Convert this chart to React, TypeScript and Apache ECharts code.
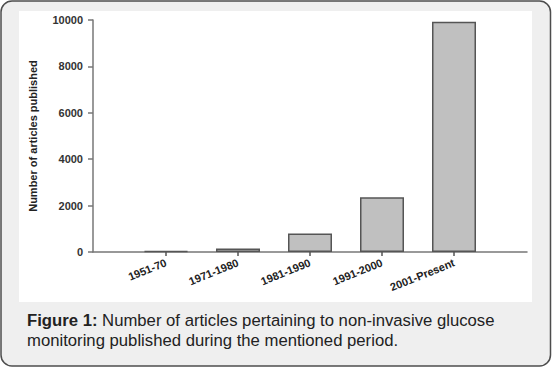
import React, { useEffect, useRef } from "react";
import * as echarts from "echarts";

const categories = ["1951-70", "1971-1980", "1981-1990", "1991-2000", "2001-Present"];
const articleCounts = [40, 150, 800, 2360, 9920];
const yTicks = { min: 0, max: 10000, interval: 2000 };
const yAxisTitle = "Number of articles published";
const captionBold = "Figure 1:";
const captionLine1 = " Number of articles pertaining to non-invasive glucose";
const captionLine2 = "monitoring published during the mentioned period.";

export default function App() {
  const ref = useRef<HTMLDivElement>(null);
  useEffect(() => {
    if (!ref.current) return;
    const chart = echarts.init(ref.current, null, { renderer: "svg" });
    const font = "Liberation Sans, Arial, Helvetica, sans-serif";
    chart.setOption({
      animation: false,
      textStyle: { fontFamily: font },
      graphic: [
        {
          type: "rect",
          z: -10,
          silent: true,
          shape: { x: 1, y: 1, width: 549.5, height: 365, r: 11 },
          style: { fill: "#efefef", stroke: "#4d4d4d", lineWidth: 1.5 },
        },
        {
          type: "rect",
          z: -9,
          silent: true,
          shape: { x: 19, y: 11, width: 513, height: 291 },
          style: { fill: "#ffffff" },
        },
        {
          type: "text",
          x: 27,
          y: 310,
          style: {
            text: "{b|" + captionBold + "}{n|" + captionLine1 + "}\n{n|" + captionLine2 + "}",
            fontFamily: font,
            rich: {
              b: { fontSize: 16.7, fontWeight: "bold", fill: "#222", fontFamily: font, lineHeight: 20 },
              n: { fontSize: 16.7, fill: "#222", fontFamily: font, lineHeight: 20 },
            },
          },
        },
      ],
      grid: [
        { left: 93, right: 25, top: 20, bottom: 116, containLabel: false },
        { left: 130, width: 360, top: 20, bottom: 116, containLabel: false },
      ],
      xAxis: [
        {
          gridIndex: 0,
          type: "value",
          min: 0,
          max: 1,
          axisLine: { show: true, lineStyle: { color: "#777", width: 1.5 } },
          axisTick: { show: false },
          axisLabel: { show: false },
          splitLine: { show: false },
        },
        {
          gridIndex: 1,
          type: "category",
          data: categories,
          axisLine: { show: false },
          axisTick: { show: true, alignWithLabel: true, length: 4, lineStyle: { color: "#555", width: 1.5 } },
          axisLabel: {
            rotate: 22,
            margin: 10,
            fontSize: 11,
            fontWeight: "bold",
            color: "#222",
            fontFamily: font,
            interval: 0,
          },
          splitLine: { show: false },
        },
      ],
      yAxis: [
        {
          gridIndex: 0,
          type: "value",
          min: yTicks.min,
          max: yTicks.max,
          interval: yTicks.interval,
          name: yAxisTitle,
          nameLocation: "middle",
          nameGap: 55,
          nameRotate: 90,
          nameTextStyle: { fontSize: 11, fontWeight: "bold", color: "#222", fontFamily: font },
          axisLine: { show: true, lineStyle: { color: "#777", width: 1.5 } },
          axisTick: { show: true, length: 5, lineStyle: { color: "#777", width: 1.5 } },
          axisLabel: {
            margin: 10,
            fontSize: 11,
            fontWeight: "bold",
            color: "#333",
            fontFamily: font,
            formatter: (v: number) => String(v),
          },
          splitLine: { show: false },
        },
        {
          gridIndex: 1,
          type: "value",
          min: yTicks.min,
          max: yTicks.max,
          show: false,
          splitLine: { show: false },
        },
      ],
      series: [
        {
          type: "bar",
          xAxisIndex: 1,
          yAxisIndex: 1,
          data: articleCounts,
          barWidth: 44,
          itemStyle: { color: "#c0c0c0", borderColor: "#555", borderWidth: 1.5 },
        },
      ],
    });
    return () => chart.dispose();
  }, []);
  return (
    <div style={{ position: "absolute", left: 0, top: 0, width: 552, height: 368 }}>
      <div ref={ref} style={{ width: 552, height: 368 }} />
    </div>
  );
}
